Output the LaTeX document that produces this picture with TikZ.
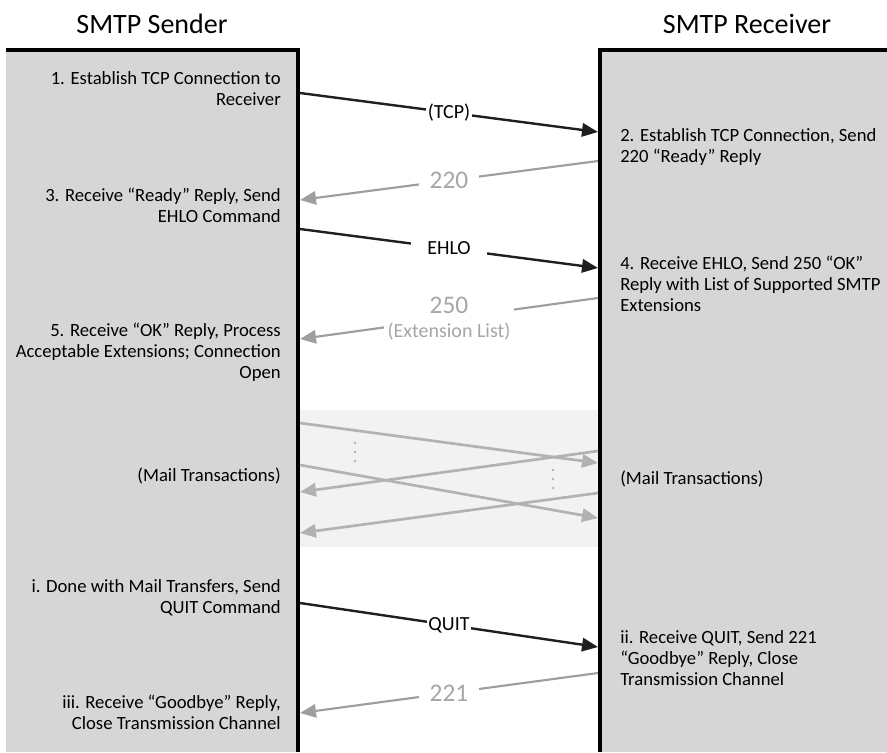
\documentclass[tikz,border=0pt]{standalone}
\usepackage{fontspec}
\setmainfont{Carlito}
\usetikzlibrary{arrows.meta,positioning}

\begin{document}
\begin{tikzpicture}[x=0.75pt,y=-0.75pt,
   every node/.style={font=\fontsize{14}{15.75}\selectfont},
   title/.style={font=\fontsize{21}{24}\selectfont},
   lstep/.style={anchor=east,align=right,inner sep=0pt},
   rstep/.style={anchor=west,align=left,inner sep=0pt},
   msg/.style={line width=1.8pt,draw=black!88,-{Triangle[length=12pt,width=10pt]}},
   rpl/.style={line width=1.6pt,draw=black!38,-{Triangle[length=12pt,width=10pt]}},
   mail/.style={line width=2pt,draw=black!30,-{Triangle[length=12pt,width=10pt]}},
   lbl/.style={fill=white,inner xsep=1pt,inner ysep=1pt,font=\fontsize{15}{18}\selectfont},
   num/.style={lbl,text=black!35,inner xsep=8pt,font=\fontsize{19}{22}\selectfont}]
  \useasboundingbox (0,0) rectangle (887,752);
  % the two hosts
  \fill[black!16] (6,50) rectangle (298,752);
  \fill[black!16] (600,50) rectangle (887,752);
  \fill[black!5] (299.5,410) rectangle (598.5,547);
  \draw[line width=3pt] (6,50) -- (298,50) -- (298,752);
  \draw[line width=3pt] (600,752) -- (600,50) -- (887,50);
  \node[title] (sndr) at (152,24) {SMTP Sender};
  \node[title] (rcvr) at (747,24) {SMTP Receiver};
  % steps
  \node[lstep] (st1) at (281,89) {1. Establish TCP Connection to\\Receiver};
  \node[rstep] (st2) at (620,147) {2. Establish TCP Connection, Send\\220 “Ready” Reply};
  \node[lstep] (st3) at (281,205) {3. Receive “Ready” Reply, Send\\EHLO Command};
  \node[rstep] (st4) at (620,284) {4. Receive EHLO, Send 250 “OK”\\Reply with List of Supported SMTP\\Extensions};
  \node[lstep] (st5) at (281,352) {5. Receive “OK” Reply, Process\\Acceptable Extensions; Connection\\Open};
  \node[lstep] (mts) at (281,476) {(Mail Transactions)};
  \node[rstep] (mtr) at (620,479) {(Mail Transactions)};
  \node[lstep] (sti) at (281,598) {i. Done with Mail Transfers, Send\\QUIT Command};
  \node[rstep] (stii) at (620,658) {ii. Receive QUIT, Send 221\\“Goodbye” Reply, Close\\Transmission Channel};
  \node[lstep] (stiii) at (281,712) {iii. Receive “Goodbye” Reply,\\Close Transmission Channel};
  % end points on the borders
  \coordinate (tcpS) at (300,93);   \coordinate (tcpR) at (598,132);
  \coordinate (rdyR) at (598,161);  \coordinate (rdyS) at (300,200);
  \coordinate (ehloS) at (300,229); \coordinate (ehloR) at (598,268);
  \coordinate (okR) at (598,298);   \coordinate (okS) at (300,339);
  \coordinate (aS) at (300,423);    \coordinate (aR) at (598,463);
  \coordinate (bR) at (598,451);    \coordinate (bS) at (300,492);
  \coordinate (cS) at (300,465);    \coordinate (cR) at (598,518);
  \coordinate (dR) at (598,493);    \coordinate (dS) at (300,533);
  \coordinate (quitS) at (300,603); \coordinate (quitR) at (598,647);
  \coordinate (byeR) at (598,673);  \coordinate (byeS) at (300,713);
  % messages
  \draw[msg] (tcpS) -- (tcpR) node[lbl,midway] {(TCP)};
  \draw[rpl] (rdyR) -- (rdyS) node[num,midway] {220};
  \draw[msg] (ehloS) -- (ehloR) node[lbl,midway,inner xsep=12pt] {EHLO};
  \draw[rpl] (okR) -- (okS) node[lbl,midway,text=black!35,align=center,inner xsep=3pt]
     {{\fontsize{19}{22}\selectfont 250}\\(Extension List)};
  \draw[mail] (aS) -- (aR);
  \draw[mail] (bR) -- (bS);
  \draw[mail] (cS) -- (cR);
  \draw[mail] (dR) -- (dS);
  \foreach \y in {443,452,461} \fill[black!30] (355,\y) circle (1.1pt);
  \foreach \y in {470,479,488} \fill[black!30] (553,\y) circle (1.1pt);
  \draw[msg] (quitS) -- (quitR) node[lbl,midway] {QUIT};
  \draw[rpl] (byeR) -- (byeS) node[num,midway] {221};
\end{tikzpicture}
\end{document}
